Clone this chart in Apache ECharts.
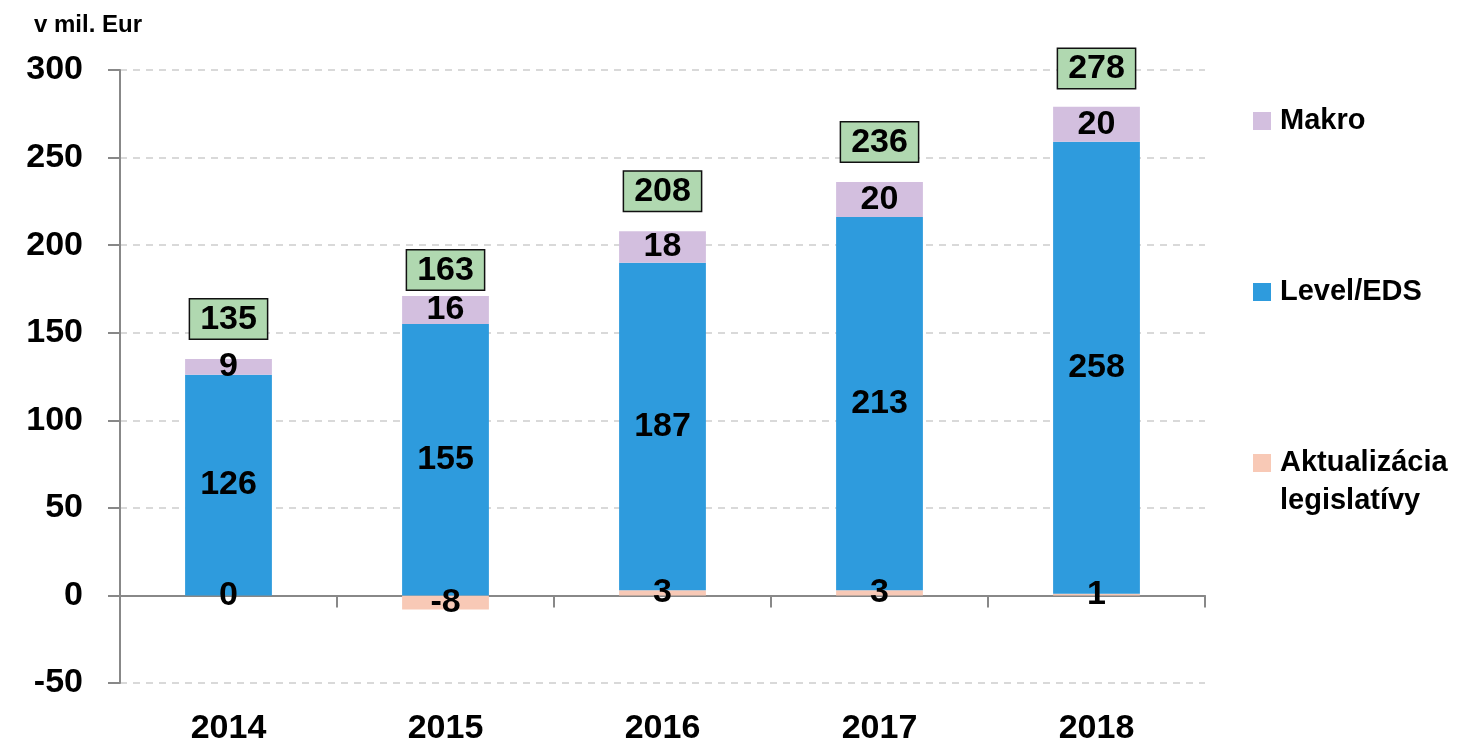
<!DOCTYPE html>
<html>
<head>
<meta charset="utf-8">
<script src="https://cdn.jsdelivr.net/npm/echarts@6/dist/echarts.min.js"></script>
<style>
  html, body { margin: 0; padding: 0; background: #fff; }
  #main { width: 1461px; height: 744px; }
</style>
</head>
<body>
<div id="main"></div>
<script>
var myChart = echarts.init(document.getElementById("main"));

const years = ["2014", "2015", "2016", "2017", "2018"];
const aktualizacia = [0, -8, 3, 3, 1];
const level = [126, 155, 187, 213, 258];
const makro = [9, 16, 18, 20, 20];
const totals = [135, 163, 208, 236, 278];

const font = "'Liberation Sans', Arial, sans-serif";
const barLabel = {
  show: true,
  position: "inside",
  color: "#000",
  fontSize: 34,
  fontWeight: "bold",
  fontFamily: font,
};

function legendAt(name, top) {
  return {
    data: [name],
    left: 1253,
    top: top,
    orient: "vertical",
    padding: 0,
    itemWidth: 18,
    itemHeight: 18,
    itemGap: 0,
    selectedMode: false,
    icon: "rect",
    formatter: function (n) {
      return n === "Aktualizácia legislatívy" ? "Aktualizácia" : n;
    },
    textStyle: {
      color: "#000",
      fontSize: 29,
      lineHeight: 30,
      fontWeight: "bold",
      fontFamily: font,
      padding: [0, 0, 0, 4],
    },
  };
}

option = {
  animation: false,
  title: {
    text: "v mil. Eur",
    left: 29,
    top: 8,
    textStyle: { fontSize: 24, fontWeight: "bold", color: "#000", fontFamily: font },
  },
  legend: [
    legendAt("Makro", 106),
    legendAt("Level/EDS", 277),
    legendAt("Aktualizácia legislatívy", 448),
  ],
  graphic: [
    {
      type: "text",
      left: 1280,
      top: 486,
      style: {
        text: "legislatívy",
        fill: "#000",
        fontSize: 29,
        fontWeight: "bold",
        fontFamily: font,
      },
    },
  ],
  grid: { left: 120, right: 256, top: 70, bottom: 61, outerBoundsMode: "none", containLabel: false },
  xAxis: [
    {
      type: "category",
      data: years,
      position: "bottom",
      axisLine: { onZero: true, lineStyle: { color: "#888", width: 2 } },
      axisTick: { show: true, length: 12, lineStyle: { color: "#888", width: 2 } },
      axisLabel: { show: false },
    },
    {
      type: "category",
      data: years,
      position: "bottom",
      axisLine: { show: false, onZero: false },
      axisTick: { show: false },
      axisLabel: {
        margin: 29,
        color: "#000",
        fontSize: 34,
        lineHeight: 34,
        fontWeight: "bold",
        fontFamily: font,
      },
    },
  ],
  yAxis: {
    type: "value",
    min: -50,
    max: 300,
    interval: 50,
    axisLine: { show: true, lineStyle: { color: "#888", width: 2 } },
    axisTick: { show: true, length: 12, lineStyle: { color: "#888", width: 2 } },
    axisLabel: {
      margin: 37,
      color: "#000",
      fontSize: 34,
      fontWeight: "bold",
      fontFamily: font,
    },
    splitLine: {
      lineStyle: { color: "#d9d9d9", width: 2, type: [7, 6] },
    },
  },
  series: [
    {
      name: "Aktualizácia legislatívy",
      type: "bar",
      stack: "a",
      barWidth: "40%",
      data: aktualizacia,
      itemStyle: { color: "#F8C9B6" },
      label: barLabel,
    },
    {
      name: "Level/EDS",
      type: "bar",
      stack: "a",
      barWidth: "40%",
      data: level,
      itemStyle: { color: "#2E9BDD" },
      label: barLabel,
    },
    {
      name: "Makro",
      type: "bar",
      stack: "a",
      barWidth: "40%",
      data: makro,
      itemStyle: { color: "#D3BFDF" },
      label: barLabel,
    },
    {
      name: "Spolu",
      type: "scatter",
      data: totals,
      symbolSize: 1,
      itemStyle: { color: "rgba(0,0,0,0)", opacity: 1 },
      label: {
        show: true,
        position: "top",
        distance: 20,
        opacity: 1,
        color: "#000",
        fontSize: 34,
        fontWeight: "bold",
        fontFamily: font,
        backgroundColor: "#B0D8B0",
        borderColor: "#111",
        borderWidth: 1.5,
        padding: [3, 10, 2, 10],
      },
    },
  ],
};

myChart.setOption(option);
</script>
</body>
</html>
